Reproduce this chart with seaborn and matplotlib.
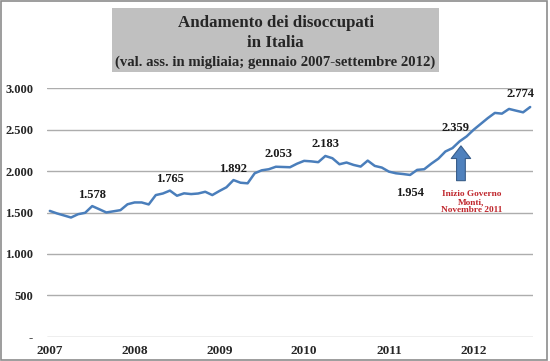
import matplotlib
matplotlib.use("Agg")
import matplotlib.pyplot as plt
from matplotlib.patches import Rectangle
import seaborn as sns
import pandas as pd

# disoccupati, valori assoluti in migliaia, gen 2007 - set 2012 (mensili)
disoccupati = [
    1520, 1490, 1465, 1440, 1480, 1497, 1578, 1540, 1501, 1515, 1529, 1600,  # 2007
    1622, 1622, 1598, 1711, 1730, 1765, 1703, 1732, 1723, 1730, 1751, 1711,  # 2008
    1760, 1805, 1892, 1860, 1853, 1974, 2010, 2023, 2053, 2050, 2047, 2090,  # 2009
    2124, 2118, 2108, 2183, 2156, 2083, 2104, 2075, 2055, 2127, 2063, 2043,  # 2010
    1994, 1974, 1965, 1954, 2015, 2023, 2090, 2150, 2237, 2278, 2359, 2419,  # 2011
    2500, 2570, 2640, 2703, 2694, 2751, 2730, 2710, 2774,                    # 2012
]
anni = ["2007", "2008", "2009", "2010", "2011", "2012"]
y_ticks = [0, 500, 1000, 1500, 2000, 2500, 3000]
y_labels = ["-", "500", "1.000", "1.500", "2.000", "2.500", "3.000"]

# punti etichettati: (indice mese, offset in punti)
etichette = [(6, 0, 4), (17, 0, 4), (26, 0, 4), (32, 2, 5), (39, 0, 4),
             (51, 0, -17), (58, -3, 5), (68, -7, 5)]
mese_monti = 58  # novembre 2011

df = pd.DataFrame({"mese": range(len(disoccupati)), "valore": disoccupati})

sns.set_style("white")
plt.rcParams["font.family"] = ["Liberation Serif", "DejaVu Serif"]
plt.rcParams["font.weight"] = "bold"

fig = plt.figure(figsize=(5.5, 3.61), dpi=100)
ax = fig.add_axes([47 / 550, 1 - 336.8 / 361, 486 / 550, (336.8 - 88.3) / 361])

for t in y_ticks:
    ax.axhline(t, color="#ADADAD", lw=1.0, zorder=1)

sns.lineplot(data=df, x="mese", y="valore", color="#4A7EBB", lw=1.8, ax=ax, zorder=3)

for m, dx, dy in etichette:
    v = disoccupati[m]
    ax.annotate(f"{v / 1000:.3f}", xy=(m, v), xytext=(dx, dy), textcoords="offset points",
                ha="center", va="bottom", fontsize=9, fontweight="bold", color="#1a1a1a",
                annotation_clip=False)

# freccia inizio governo Monti
ax.annotate("", xy=(mese_monti + 0.2, 2305), xytext=(mese_monti + 0.2, 1885),
            arrowprops=dict(arrowstyle="simple,head_length=0.65,head_width=1.0,tail_width=0.45",
                            mutation_scale=14, fc="#4F81BD", ec="#385D8A", lw=0.8,
                            shrinkA=0, shrinkB=0), zorder=4)
ax.text(mese_monti + 1.7, 1775, "Inizio Governo\nMonti,\nNovembre 2011", ha="center", va="top",
        fontsize=6.7, fontweight="bold", color="#C0272D", linespacing=1.05)

ax.set_xlim(-0.4, 68.4)
ax.set_ylim(0, 3000)
ax.set_yticks(y_ticks)
ax.set_yticklabels(y_labels, fontsize=9, fontweight="bold")
ax.set_xticks(range(0, 72, 12))
ax.set_xticklabels(anni, fontsize=9.5, fontweight="bold")
ax.tick_params(axis="y", length=0, pad=10)
ax.tick_params(axis="x", length=0, pad=6)
ax.set_xlabel("")
ax.set_ylabel("")
sns.despine(ax=ax, left=True, bottom=True, top=True, right=True)

# titolo in riquadro grigio
fig.patches.append(Rectangle((112 / 550, 1 - 72 / 361), 327 / 550, 64 / 361,
                             transform=fig.transFigure, fc="#C0C0C0", ec="none"))
fig.text(275.5 / 550, 1 - 23 / 361, "Andamento dei disoccupati", ha="center", va="center",
         fontsize=12.2, fontweight="bold")
fig.text(275.5 / 550, 1 - 43 / 361, "in Italia", ha="center", va="center",
         fontsize=12.2, fontweight="bold")
fig.text(275.5 / 550, 1 - 62 / 361, "(val. ass. in migliaia; gennaio 2007-settembre 2012)",
         ha="center", va="center", fontsize=10.6, fontweight="bold")

# cornice
fig.patches.append(Rectangle((0.002, 0.003), 0.993, 0.994, transform=fig.transFigure,
                             fc="none", ec="#8C8C8C", lw=1.2))

fig.savefig("out.png", dpi=100)
plt.close(fig)
